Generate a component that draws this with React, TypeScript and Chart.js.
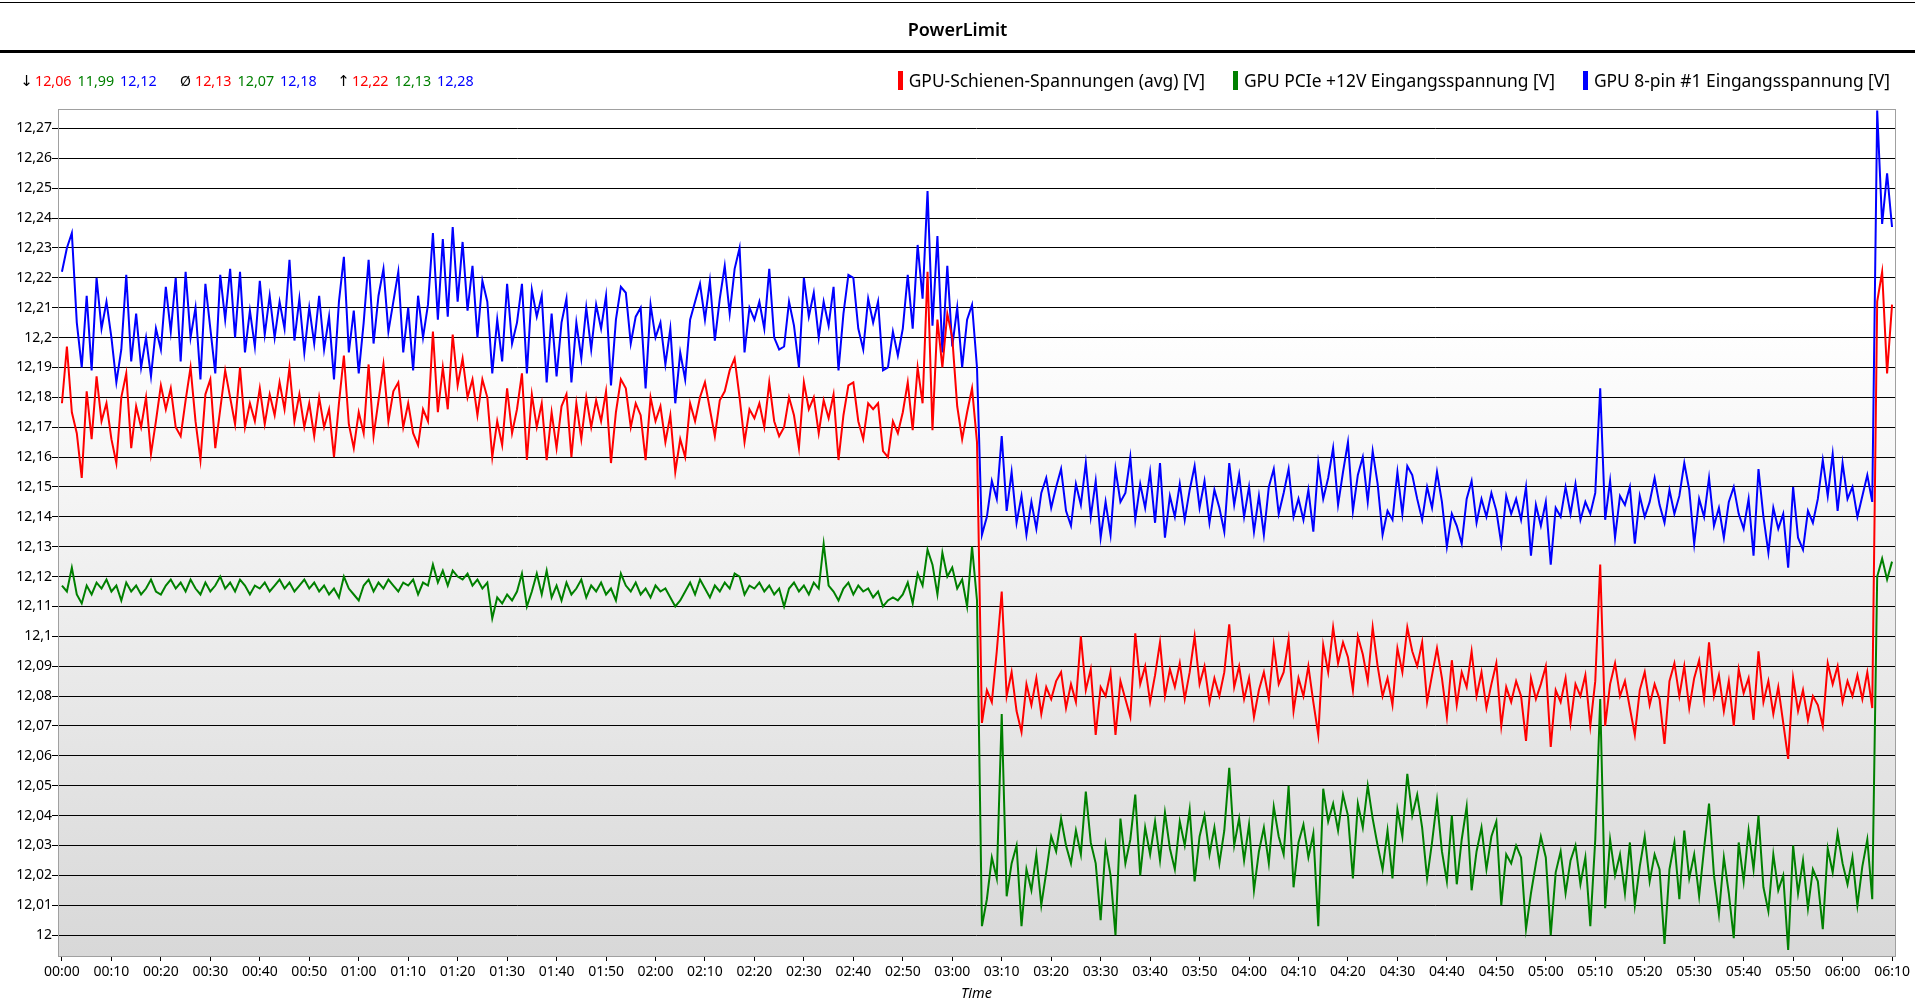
import React, { useEffect, useRef } from "react";
import { Chart, registerables } from "chart.js";

Chart.register(...registerables);

// one sample per second, starting at 00:00
const sampleSeconds = 1;

const seriesNames = [
  "GPU-Schienen-Spannungen (avg) [V]",
  "GPU PCIe +12V Eingangsspannung [V]",
  "GPU 8-pin #1 Eingangsspannung [V]",
];
const seriesColors = ["#ff0000", "#008000", "#0000ff"];

// min / avg / max as shown above the plot (red, green, blue)
const statSymbols = ["↓", "Ø", "↑"];
const statMin = ["12,06", "11,99", "12,12"];
const statAvg = ["12,13", "12,07", "12,18"];
const statMax = ["12,22", "12,13", "12,28"];

const railAvg = [
  12.178,12.197,12.175,12.168,12.153,12.182,12.166,12.187,12.172,12.178,
  12.166,12.158,12.180,12.188,12.163,12.177,12.170,12.180,12.161,12.172,
  12.184,12.176,12.183,12.170,12.167,12.179,12.190,12.172,12.159,12.181,
  12.186,12.163,12.176,12.189,12.180,12.171,12.190,12.170,12.178,12.172,
  12.183,12.171,12.181,12.174,12.185,12.176,12.190,12.172,12.181,12.170,
  12.178,12.167,12.180,12.170,12.176,12.160,12.178,12.194,12.171,12.163,
  12.175,12.168,12.191,12.167,12.179,12.191,12.172,12.182,12.185,12.170,
  12.178,12.168,12.164,12.176,12.172,12.202,12.175,12.190,12.176,12.201,
  12.184,12.193,12.180,12.186,12.174,12.186,12.180,12.160,12.172,12.164,
  12.183,12.168,12.176,12.188,12.159,12.181,12.170,12.178,12.159,12.175,
  12.163,12.177,12.181,12.160,12.178,12.166,12.180,12.170,12.179,12.172,
  12.182,12.158,12.175,12.186,12.183,12.170,12.178,12.174,12.159,12.180,
  12.172,12.177,12.165,12.174,12.155,12.166,12.160,12.178,12.172,12.180,
  12.185,12.176,12.167,12.179,12.182,12.189,12.193,12.180,12.165,12.176,
  12.173,12.178,12.170,12.185,12.172,12.167,12.170,12.180,12.174,12.163,
  12.185,12.176,12.180,12.168,12.179,12.173,12.181,12.159,12.174,12.184,
  12.185,12.172,12.166,12.178,12.176,12.178,12.162,12.160,12.172,12.168,
  12.175,12.185,12.169,12.190,12.178,12.222,12.169,12.206,12.190,12.208,
  12.200,12.177,12.166,12.175,12.183,12.165,12.071,12.082,12.078,12.095,
  12.115,12.080,12.088,12.075,12.068,12.084,12.077,12.086,12.074,12.083,
  12.079,12.085,12.088,12.076,12.084,12.078,12.100,12.082,12.089,12.067,
  12.083,12.080,12.088,12.067,12.085,12.079,12.073,12.101,12.084,12.090,
  12.078,12.087,12.098,12.080,12.089,12.083,12.091,12.079,12.088,12.100,
  12.084,12.090,12.078,12.086,12.080,12.088,12.104,12.083,12.090,12.079,
  12.086,12.073,12.082,12.088,12.079,12.097,12.084,12.088,12.099,12.075,
  12.086,12.080,12.090,12.078,12.067,12.097,12.088,12.103,12.091,12.098,
  12.093,12.082,12.100,12.094,12.085,12.103,12.090,12.080,12.086,12.077,
  12.096,12.088,12.103,12.095,12.090,12.098,12.078,12.087,12.096,12.086,
  12.073,12.092,12.077,12.088,12.083,12.095,12.080,12.088,12.076,12.084,
  12.091,12.070,12.083,12.078,12.085,12.080,12.065,12.086,12.079,12.084,
  12.090,12.063,12.082,12.078,12.086,12.071,12.084,12.080,12.087,12.070,
  12.085,12.124,12.070,12.084,12.091,12.080,12.085,12.076,12.067,12.082,
  12.088,12.077,12.084,12.079,12.064,12.085,12.091,12.080,12.090,12.076,
  12.086,12.092,12.079,12.098,12.080,12.087,12.075,12.085,12.070,12.089,
  12.081,12.086,12.072,12.095,12.078,12.085,12.074,12.083,12.071,12.059,
  12.086,12.075,12.082,12.072,12.080,12.077,12.070,12.091,12.084,12.090,
  12.078,12.085,12.080,12.087,12.079,12.088,12.076,12.212,12.222,12.188,
  12.211,
];

const pcie12v = [
  12.117,12.115,12.123,12.114,12.111,12.117,12.114,12.118,12.116,12.119,
  12.115,12.117,12.112,12.118,12.115,12.117,12.114,12.116,12.119,12.115,
  12.114,12.117,12.119,12.116,12.118,12.115,12.119,12.116,12.114,12.118,
  12.115,12.117,12.120,12.116,12.118,12.115,12.119,12.117,12.114,12.117,
  12.116,12.118,12.115,12.117,12.119,12.116,12.118,12.115,12.117,12.119,
  12.116,12.118,12.115,12.117,12.114,12.116,12.113,12.120,12.116,12.114,
  12.112,12.117,12.119,12.115,12.118,12.116,12.119,12.117,12.115,12.118,
  12.117,12.119,12.114,12.118,12.117,12.124,12.118,12.122,12.117,12.122,
  12.120,12.119,12.121,12.117,12.119,12.116,12.118,12.106,12.113,12.111,
  12.114,12.112,12.115,12.121,12.110,12.115,12.121,12.114,12.122,12.113,
  12.117,12.112,12.118,12.114,12.116,12.119,12.113,12.117,12.115,12.118,
  12.114,12.116,12.112,12.121,12.117,12.115,12.118,12.114,12.116,12.113,
  12.117,12.115,12.116,12.113,12.110,12.112,12.115,12.118,12.114,12.119,
  12.116,12.113,12.117,12.115,12.118,12.116,12.121,12.120,12.114,12.117,
  12.116,12.118,12.115,12.117,12.114,12.116,12.110,12.116,12.118,12.115,
  12.117,12.114,12.118,12.116,12.131,12.117,12.115,12.112,12.116,12.118,
  12.114,12.117,12.115,12.116,12.113,12.115,12.110,12.112,12.113,12.112,
  12.114,12.118,12.111,12.121,12.117,12.129,12.124,12.114,12.128,12.120,
  12.123,12.116,12.119,12.110,12.130,12.112,12.003,12.012,12.026,12.019,
  12.074,12.013,12.024,12.030,12.003,12.022,12.015,12.027,12.010,12.021,
  12.033,12.028,12.039,12.030,12.024,12.035,12.027,12.048,12.031,12.024,
  12.005,12.030,12.020,12.000,12.039,12.024,12.032,12.047,12.020,12.036,
  12.027,12.038,12.025,12.041,12.029,12.022,12.038,12.030,12.042,12.018,
  12.033,12.040,12.027,12.036,12.024,12.035,12.056,12.030,12.039,12.025,
  12.037,12.015,12.028,12.036,12.024,12.043,12.033,12.027,12.050,12.016,
  12.031,12.037,12.026,12.034,12.003,12.049,12.038,12.044,12.035,12.047,
  12.040,12.019,12.044,12.036,12.050,12.039,12.030,12.022,12.035,12.019,
  12.042,12.033,12.054,12.040,12.047,12.036,12.019,12.031,12.045,12.028,
  12.018,12.040,12.017,12.032,12.043,12.015,12.028,12.036,12.022,12.033,
  12.038,12.010,12.027,12.024,12.030,12.026,12.002,12.014,12.024,12.033,
  12.026,12.000,12.021,12.028,12.014,12.025,12.030,12.017,12.026,12.003,
  12.032,12.079,12.009,12.032,12.020,12.027,12.014,12.031,12.010,12.023,
  12.033,12.018,12.027,12.022,11.997,12.022,12.031,12.012,12.035,12.019,
  12.027,12.013,12.029,12.044,12.020,12.007,12.026,12.014,11.999,12.031,
  12.018,12.035,12.022,12.040,12.016,12.008,12.027,12.015,12.020,11.995,
  12.030,12.014,12.025,12.009,12.022,12.018,12.002,12.029,12.021,12.034,
  12.024,12.017,12.026,12.010,12.023,12.032,12.012,12.120,12.126,12.119,
  12.125,
];

const pin8 = [
  12.222,12.230,12.235,12.205,12.190,12.214,12.189,12.220,12.203,12.212,
  12.200,12.185,12.196,12.221,12.192,12.208,12.190,12.200,12.187,12.203,
  12.196,12.217,12.202,12.220,12.192,12.222,12.200,12.210,12.186,12.218,
  12.203,12.188,12.221,12.206,12.223,12.200,12.222,12.195,12.209,12.197,
  12.219,12.201,12.214,12.200,12.212,12.203,12.226,12.199,12.213,12.195,
  12.210,12.198,12.214,12.196,12.207,12.186,12.212,12.227,12.195,12.209,
  12.188,12.205,12.226,12.198,12.214,12.223,12.202,12.212,12.222,12.195,
  12.210,12.189,12.214,12.200,12.211,12.235,12.206,12.233,12.207,12.237,
  12.212,12.232,12.209,12.224,12.200,12.219,12.212,12.188,12.206,12.192,
  12.218,12.198,12.205,12.218,12.188,12.216,12.207,12.214,12.185,12.208,
  12.187,12.205,12.213,12.185,12.205,12.193,12.210,12.196,12.211,12.203,
  12.214,12.184,12.206,12.217,12.215,12.198,12.207,12.210,12.183,12.211,
  12.200,12.205,12.191,12.203,12.178,12.195,12.186,12.206,12.212,12.218,
  12.206,12.219,12.199,12.213,12.224,12.208,12.223,12.230,12.195,12.210,
  12.206,12.212,12.203,12.223,12.200,12.196,12.197,12.212,12.204,12.190,
  12.220,12.207,12.215,12.200,12.212,12.204,12.217,12.189,12.208,12.221,
  12.220,12.203,12.196,12.213,12.205,12.212,12.189,12.190,12.202,12.194,
  12.203,12.221,12.203,12.231,12.213,12.249,12.204,12.234,12.195,12.224,
  12.197,12.210,12.190,12.206,12.211,12.190,12.134,12.140,12.152,12.146,
  12.167,12.142,12.155,12.138,12.147,12.134,12.145,12.136,12.148,12.153,
  12.143,12.150,12.156,12.142,12.137,12.151,12.144,12.158,12.140,12.152,
  12.133,12.145,12.134,12.156,12.145,12.148,12.160,12.139,12.151,12.143,
  12.155,12.138,12.158,12.133,12.147,12.140,12.151,12.139,12.149,12.157,
  12.143,12.152,12.138,12.149,12.143,12.135,12.158,12.144,12.154,12.140,
  12.150,12.135,12.147,12.134,12.150,12.156,12.141,12.148,12.156,12.140,
  12.146,12.139,12.149,12.135,12.158,12.146,12.153,12.163,12.144,12.155,
  12.165,12.142,12.154,12.160,12.145,12.162,12.151,12.134,12.142,12.139,
  12.155,12.141,12.157,12.154,12.146,12.139,12.150,12.143,12.155,12.145,
  12.130,12.141,12.137,12.131,12.146,12.152,12.138,12.146,12.140,12.148,
  12.142,12.131,12.147,12.141,12.146,12.139,12.150,12.127,12.144,12.137,
  12.145,12.124,12.143,12.140,12.150,12.141,12.151,12.139,12.145,12.141,
  12.148,12.183,12.139,12.152,12.133,12.147,12.144,12.150,12.131,12.147,
  12.140,12.145,12.153,12.144,12.138,12.149,12.141,12.147,12.158,12.149,
  12.131,12.146,12.140,12.153,12.137,12.143,12.133,12.145,12.150,12.141,
  12.136,12.146,12.127,12.156,12.140,12.128,12.143,12.136,12.141,12.123,
  12.150,12.133,12.129,12.142,12.138,12.146,12.159,12.147,12.161,12.142,
  12.158,12.146,12.150,12.140,12.147,12.154,12.145,12.276,12.238,12.255,
  12.237,
];

const seriesValues = [railAvg, pcie12v, pin8];

const FONT = '"Noto Sans", sans-serif';

const mmss = (v: number) => {
  const s = Math.round(v);
  const m = Math.floor(s / 60);
  return `${String(m).padStart(2, "0")}:${String(s % 60).padStart(2, "0")}`;
};

const plotFrame = {
  id: "plotFrame",
  beforeDraw(chart: Chart) {
    const { ctx, chartArea: a } = chart;
    const g = ctx.createLinearGradient(0, a.top, 0, a.bottom);
    g.addColorStop(0, "#ffffff");
    g.addColorStop(0.25, "#ffffff");
    g.addColorStop(1, "#d8d8d8");
    ctx.save();
    ctx.fillStyle = g;
    ctx.fillRect(a.left, a.top, a.right - a.left, a.bottom - a.top);
    ctx.restore();
  },
  afterDraw(chart: Chart) {
    const { ctx, chartArea: a } = chart;
    ctx.save();
    ctx.strokeStyle = "#a0a0a0";
    ctx.lineWidth = 1;
    ctx.strokeRect(
      Math.round(a.left) + 0.5,
      Math.round(a.top) + 0.5,
      Math.round(a.right - a.left),
      Math.round(a.bottom - a.top)
    );
    ctx.restore();
  },
};

const VoltageChart = () => {
  const chartRef = useRef<HTMLCanvasElement | null>(null);

  useEffect(() => {
    if (!chartRef.current) return;
    const chart = new Chart(chartRef.current, {
      type: "line",
      data: {
        datasets: seriesValues.map((vals, k) => ({
          label: seriesNames[k],
          data: vals.map((v, i) => ({ x: i * sampleSeconds, y: v })),
          borderColor: seriesColors[k],
          backgroundColor: seriesColors[k],
          borderWidth: 2,
          pointRadius: 0,
          tension: 0,
          fill: false,
        })),
      },
      options: {
        animation: false,
        responsive: false,
        devicePixelRatio: 1,
        layout: { padding: { top: 109, right: 20, bottom: 0, left: 0 } },
        plugins: {
          legend: { display: false },
          tooltip: { enabled: false },
        },
        scales: {
          x: {
            type: "linear",
            min: -0.8,
            max: 370.6,
            afterFit: (s: any) => {
              s.height = 49;
            },
            border: { display: false },
            grid: {
              drawOnChartArea: false,
              drawTicks: true,
              tickLength: 5,
              tickColor: "#000",
              color: "#000",
            },
            ticks: {
              stepSize: 10,
              includeBounds: false,
              autoSkip: false,
              maxRotation: 0,
              padding: 3,
              color: "#000",
              font: { family: FONT, size: 14 },
              callback: (v: any) => mmss(Number(v)),
            },
            title: {
              display: true,
              text: "Time",
              color: "#000",
              font: { family: FONT, size: 14.5, style: "italic" },
              padding: { top: 0, bottom: 2 },
            },
          },
          y: {
            type: "linear",
            min: 11.993,
            max: 12.2765,
            afterFit: (s: any) => {
              s.width = 58;
            },
            border: { display: false },
            grid: {
              color: "#000",
              lineWidth: 1,
              drawTicks: true,
              tickLength: 6,
              tickColor: "#000",
            },
            ticks: {
              stepSize: 0.01,
              includeBounds: false,
              padding: 0,
              color: "#000",
              font: { family: FONT, size: 14 },
              callback: (v: any) =>
                String(Math.round(Number(v) * 100) / 100).replace(".", ","),
            },
          },
        },
      },
      plugins: [plotFrame],
    });
    return () => chart.destroy();
  }, []);

  return (
    <canvas
      ref={chartRef}
      width={1915}
      height={1005}
      style={{ position: "absolute", left: 0, top: 0, width: 1915, height: 1005 }}
    />
  );
};

const statGroups = [
  { left: 18, symbolWidth: 17, values: statMin, symbol: statSymbols[0], symbolFont: '"DejaVu Sans", sans-serif', symbolSize: 15 },
  { left: 176, symbolWidth: 19, values: statAvg, symbol: statSymbols[1], symbolFont: FONT, symbolSize: 14 },
  { left: 335, symbolWidth: 17, values: statMax, symbol: statSymbols[2], symbolFont: '"DejaVu Sans", sans-serif', symbolSize: 15 },
];

export default function App() {
  return (
    <div
      style={{
        position: "absolute",
        left: 0,
        top: 0,
        width: 1915,
        height: 1005,
        overflow: "hidden",
        background: "#fff",
        fontFamily: FONT,
        color: "#000",
      }}
    >
      <VoltageChart />
      <div style={{ position: "absolute", left: 0, top: 2, width: 1915, height: 1, background: "#000" }} />
      <div
        style={{
          position: "absolute",
          left: 0,
          top: 16,
          width: 1915,
          textAlign: "center",
          fontSize: 18,
          fontWeight: 600,
          lineHeight: "26px",
        }}
      >
        PowerLimit
      </div>
      <div style={{ position: "absolute", left: 0, top: 50, width: 1915, height: 3, background: "#000" }} />

      {statGroups.map((g, gi) => (
        <div
          key={gi}
          style={{
            position: "absolute",
            left: g.left,
            top: 71,
            height: 20,
            display: "flex",
            alignItems: "center",
            fontSize: 14.3,
            lineHeight: "20px",
            whiteSpace: "nowrap",
          }}
        >
          <span
            style={{
              display: "inline-block",
              width: g.symbolWidth,
              fontSize: g.symbolSize,
              fontFamily: g.symbolFont,
              textAlign: "center",
            }}
          >
            {g.symbol}
          </span>
          {g.values.map((v, k) => (
            <span key={k} style={{ color: seriesColors[k], marginRight: 6 }}>
              {v}
            </span>
          ))}
        </div>
      ))}

      <div
        style={{
          position: "absolute",
          right: 25,
          top: 70,
          height: 20,
          display: "flex",
          alignItems: "center",
          fontSize: 17.4,
          lineHeight: "20px",
          whiteSpace: "nowrap",
        }}
      >
        {seriesNames.map((name, k) => (
          <div key={k} style={{ display: "flex", alignItems: "center", marginLeft: k === 0 ? 0 : 28 }}>
            <span style={{ display: "inline-block", width: 5, height: 19, background: seriesColors[k], marginRight: 6 }} />
            <span>{name}</span>
          </div>
        ))}
      </div>
    </div>
  );
}
